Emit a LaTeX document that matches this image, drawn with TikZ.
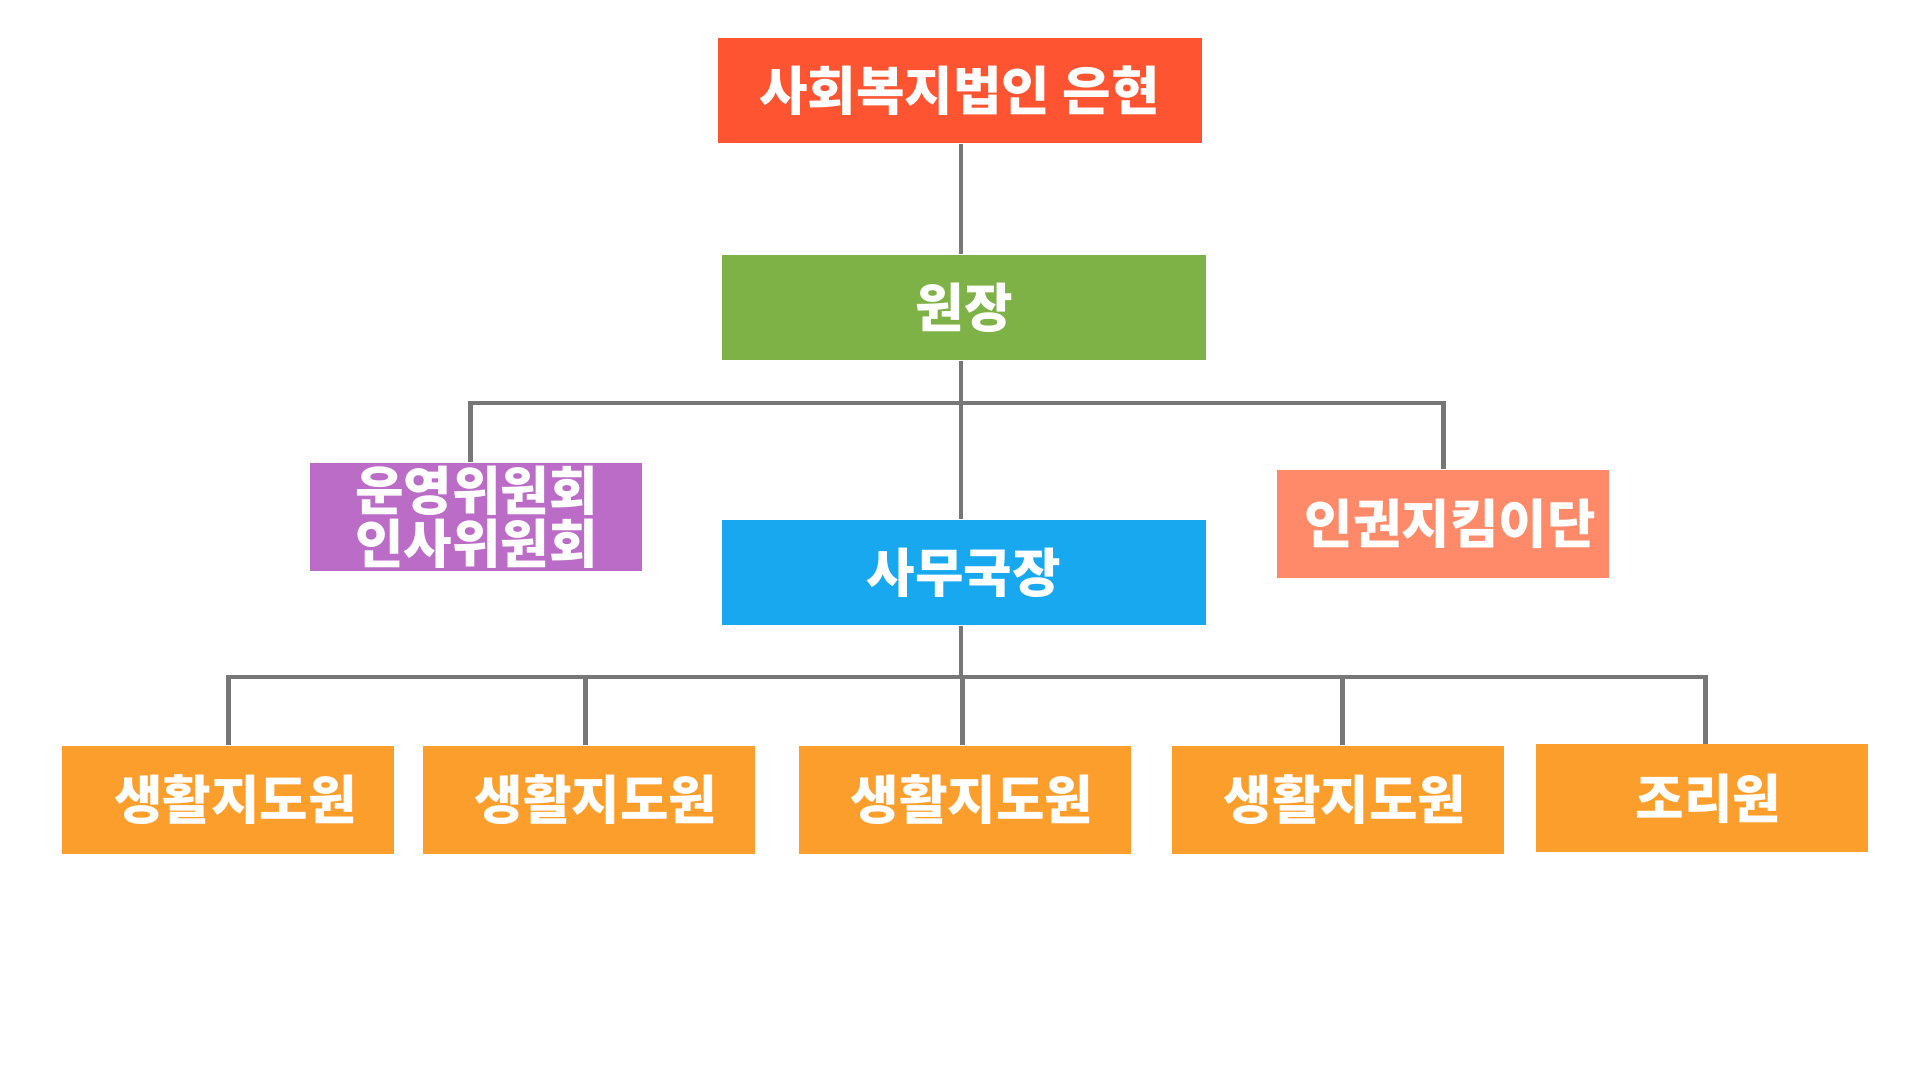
\documentclass[tikz,border=0pt]{standalone}
\usepackage{fontspec}
\newfontfamily\krfont{Noto Sans CJK KR}[BoldFont={* Black}]
\usetikzlibrary{positioning}

\definecolor{corpred}{HTML}{FE5432}
\definecolor{headgreen}{HTML}{7EB246}
\definecolor{boardpurple}{HTML}{BA6CC6}
\definecolor{rightssalmon}{HTML}{FF8A69}
\definecolor{officeblue}{HTML}{18A8EF}
\definecolor{stafforange}{HTML}{FC9E2C}
\definecolor{linkgray}{HTML}{777777}

\tikzset{
    orgbox/.style={rectangle, inner sep=0pt, minimum width=33.2mm, minimum height=10.8mm,
        text=white, align=center, font=\krfont\bfseries\fontsize{15}{14}\selectfont},
    widebox/.style={orgbox, minimum width=48.4mm, minimum height=10.5mm},
    offtext/.style={execute at begin node=\hspace*{1.4mm}},
    link/.style={draw=linkgray, line width=1.4pt},
}

\begin{document}
\begin{tikzpicture}[x=0.1mm, y=-0.1mm]

    \useasboundingbox (0,0) rectangle (1920,1080);

    \coordinate (upperbus) at (961,403);
    \coordinate (lowerbus) at (961,677);

    \node[widebox, fill=corpred] (corp) at (959.5,90.7) {사회복지법인 은현};
    \node[widebox, fill=headgreen] (head) at (964.3,307.4) {원장};
    \node[orgbox, fill=boardpurple] (board) at (476.4,516.8) {운영위원회\\인사위원회};
    \node[orgbox, offtext, fill=rightssalmon] (rights) at (1443.1,523.5) {인권지킴이단};
    \node[widebox, fill=officeblue] (office) at (963.8,572.5) {사무국장};

    \node[orgbox, offtext, fill=stafforange] (guide1) at (228.4,799.6) {생활지도원};
    \node[orgbox, offtext, fill=stafforange] (guide2) at (589.0,799.6) {생활지도원};
    \node[orgbox, offtext, fill=stafforange] (guide3) at (965.0,799.6) {생활지도원};
    \node[orgbox, offtext, fill=stafforange] (guide4) at (1337.8,799.6) {생활지도원};
    \node[orgbox, offtext, fill=stafforange] (cook) at (1701.5,798.4) {조리원};

    % upper level
    \path[link] (corp.south -| upperbus) -- (head.north -| upperbus);
    \path[link] (head.south -| upperbus) -- (office.north -| upperbus);
    \path[link] ([xshift=-0.6mm]board.north) |- (upperbus) -| (rights.north);

    % staff
    \path[link] (office.south -| lowerbus) -- (lowerbus);
    \path[link] (guide1.north) |- (lowerbus) -| ([xshift=0.43mm]cook.north);
    \path[link] ([xshift=-0.37mm]guide2.north) -- ([xshift=-0.37mm]guide2.north |- lowerbus);
    \path[link] ([xshift=-0.25mm]guide3.north) -- ([xshift=-0.25mm]guide3.north |- lowerbus);
    \path[link] ([xshift=0.43mm]guide4.north) -- ([xshift=0.43mm]guide4.north |- lowerbus);

\end{tikzpicture}
\end{document}
